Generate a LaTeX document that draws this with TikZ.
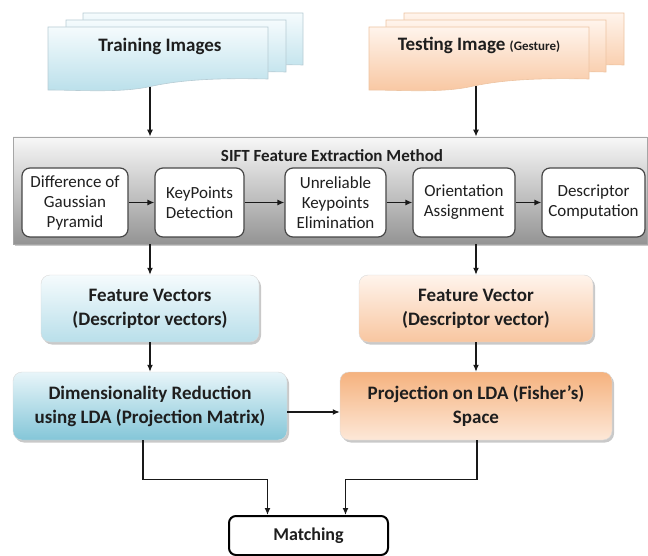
\documentclass[tikz,border=0pt]{standalone}
\usepackage{fontspec}
\setmainfont{Carlito}
\usepackage{tikz}
\usetikzlibrary{arrows.meta,shadows}

\definecolor{trnTop}{HTML}{F5FBFD}
\definecolor{trnBot}{HTML}{B9DFEA}
\definecolor{trnLine}{HTML}{B7CCD4}
\definecolor{tstTop}{HTML}{FFF4EC}
\definecolor{tstBot}{HTML}{F8C6A0}
\definecolor{tstLine}{HTML}{EDC4A2}
\definecolor{dimDark}{HTML}{84C6D8}
\definecolor{dimLight}{HTML}{E8F5F9}
\definecolor{prjDark}{HTML}{F5B27E}
\definecolor{prjLight}{HTML}{FDE8D8}
\definecolor{txt}{HTML}{1E1E1E}

\begin{document}
\begin{tikzpicture}[x=1pt, y=-1pt,
    % one sheet of a stacked document, wavy lower edge
    docsheet/.pic={
      \path[pic actions] (0,0) -- (220,0) -- (220,52)
        .. controls (175,51) and (135,52) .. (100,60)
        .. controls (70,66) and (30,63) .. (0,63) -- cycle;
    },
    softshadow/.style={drop shadow={shadow xshift=2pt, shadow yshift=-2.5pt,
        opacity=0.3, fill=black!70}},
    trnsheet/.style={draw=trnLine, line width=0.6pt, top color=trnTop,
        bottom color=trnBot, softshadow},
    tstsheet/.style={draw=tstLine, line width=0.6pt, top color=tstTop,
        bottom color=tstBot, softshadow},
    hdr/.style={font=\fontsize{19}{23}\selectfont\bfseries, text=txt,
        align=center},
    fbox/.style={rounded corners=9pt, align=center, text=txt, softshadow,
        font=\fontsize{19}{24}\selectfont\bfseries, draw=white!85!black,
        line width=0.4pt},
    stepbox/.style={draw=black!72, line width=1.2pt, fill=white,
        rounded corners=8pt, minimum height=69pt, align=center,
        text=black!88, font=\fontsize{17}{20}\selectfont, inner sep=1pt},
    arr/.style={-{Latex[length=7pt,width=6pt]}, line width=1.3pt, black!90}
  ]
  \useasboundingbox (0,0) rectangle (648,556);

  % training images stack
  \pic[trnsheet] at (83,13) {docsheet};
  \pic[trnsheet] at (66,20) {docsheet};
  \pic[trnsheet] at (48,27) {docsheet};
  \node[hdr] (train) at (160,46) {Training Images};
  \coordinate (trainbot) at (150,87);

  % testing image stack
  \pic[tstsheet] at (404,13) {docsheet};
  \pic[tstsheet] at (386,20) {docsheet};
  \pic[tstsheet] at (369,27) {docsheet};
  \node[hdr] (test) at (479,45) {Testing Image {\fontsize{13}{15}\selectfont (Gesture)}};
  \coordinate (testbot) at (476,86);

  % SIFT frame
  \node[draw=black!35, line width=0.8pt, top color=black!3,
    bottom color=black!42, minimum width=634pt, minimum height=107pt,
    softshadow] (sift) at (330,190.5) {};
  \node[font=\fontsize{17}{20}\selectfont\bfseries, text=txt]
    (siftttl) at (332,156) {SIFT Feature Extraction Method};

  % SIFT stages
  \node[stepbox, minimum width=106pt] (dog) at (75,202.5)
    {Difference of\\Gaussian\\Pyramid};
  \node[stepbox, minimum width=89pt] (kpd) at (199.5,202.5)
    {KeyPoints\\Detection};
  \node[stepbox, minimum width=101pt] (elim) at (335.5,202.5)
    {Unreliable\\Keypoints\\Elimination};
  \node[stepbox, minimum width=102pt] (orient) at (464,202.5)
    {Orientation\\Assignment};
  \node[stepbox, minimum width=103pt] (desc) at (593.5,202.5)
    {Descriptor\\Computation};

  \draw[arr] (dog.east) -- (kpd.west);
  \draw[arr] (kpd.east) -- (elim.west);
  \draw[arr] (elim.east) -- (orient.west);
  \draw[arr] (orient.east) -- (desc.west);

  % feature vectors
  \node[fbox, top color=trnTop, bottom color=trnBot,
    minimum width=218pt, minimum height=67pt] (fvtrain) at (150,308.5)
    {Feature Vectors\\(Descriptor vectors)};
  \node[fbox, top color=tstTop, bottom color=tstBot,
    minimum width=234pt, minimum height=67pt] (fvtest) at (476,308.5)
    {Feature Vector\\(Descriptor vector)};

  % LDA
  \node[fbox, shading angle=60, top color=dimLight, bottom color=dimDark,
    minimum width=274pt, minimum height=68pt] (dim) at (150,406)
    {Dimensionality Reduction\\using LDA (Projection Matrix)};
  \node[fbox, shading angle=-60, top color=prjDark, bottom color=prjLight,
    minimum width=272pt, minimum height=68pt] (proj) at (476,406)
    {Projection on LDA (Fisher's)\\Space};

  % matching
  \node[draw=black, line width=2pt, fill=white, rounded corners=7pt,
    minimum width=159pt, minimum height=39pt, text=txt,
    font=\fontsize{18}{22}\selectfont\bfseries] (match) at (308.5,535.5)
    {Matching};

  % connectors
  \draw[arr] (trainbot) -- (trainbot |- sift.north);
  \draw[arr] (testbot) -- (testbot |- sift.north);
  \draw[arr] (sift.south -| fvtrain) -- (fvtrain.north);
  \draw[arr] (sift.south -| fvtest) -- (fvtest.north);
  \draw[arr] (fvtrain.south) -- (dim.north);
  \draw[arr] (fvtest.south) -- (proj.north);
  \draw[arr] ([yshift=-6pt]dim.east) -- ([yshift=-6pt]proj.west);
  \draw[arr] ([xshift=-7pt]dim.south) -- ++(0,39) -| ([xshift=-41pt]match.north);
  \draw[arr] ([xshift=1pt]proj.south) -- ++(0,39) -| ([xshift=37pt]match.north);
\end{tikzpicture}
\end{document}
